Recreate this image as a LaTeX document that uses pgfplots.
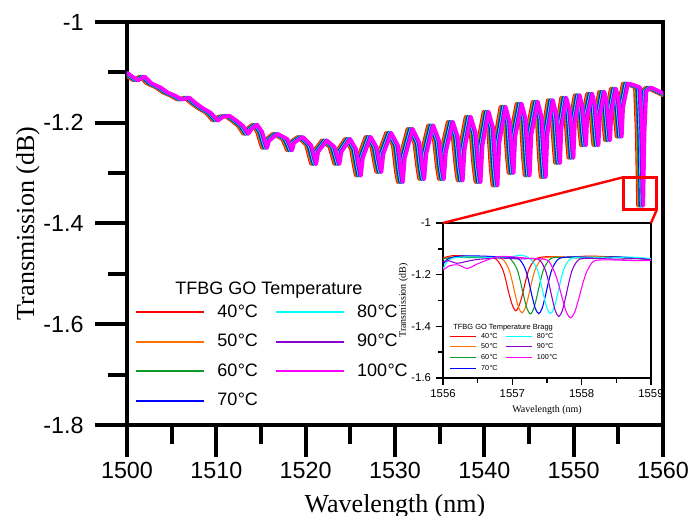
\documentclass[border=0pt]{standalone}
\usepackage{pgfplots}
\pgfplotsset{compat=1.18}
\usepackage{pgfplotstable}
\usepackage{fontspec}
\setmainfont{Liberation Sans}
\newfontfamily\serif{Liberation Serif}
\newcommand\dC{\kern0.4pt°\kern-0.2pt C}

\definecolor{cRed}{HTML}{FF0000}
\definecolor{cOrange}{HTML}{FF7000}
\definecolor{cGreen}{HTML}{0F9A2A}
\definecolor{cBlue}{HTML}{0000FF}
\definecolor{cCyan}{HTML}{00FFFF}
\definecolor{cPurple}{HTML}{8C00D2}
\definecolor{cMagenta}{HTML}{FF00FF}

\pgfplotstableread{
x40 x50 x60 x70 x80 x90 x100 y
1499.4 1499.5 1499.6 1499.7 1499.8 1499.9 1500.0 -1.100
1500.0 1500.1 1500.2 1500.3 1500.4 1500.5 1500.6 -1.108
1500.7 1500.8 1500.9 1501.0 1501.1 1501.2 1501.3 -1.116
1501.4 1501.5 1501.6 1501.7 1501.8 1501.9 1502.0 -1.108
1502.2 1502.3 1502.4 1502.5 1502.6 1502.7 1502.8 -1.122
1503.2 1503.3 1503.4 1503.5 1503.6 1503.7 1503.8 -1.130
1504.0 1504.1 1504.2 1504.3 1504.4 1504.5 1504.6 -1.140
1504.8 1504.9 1505.0 1505.1 1505.2 1505.3 1505.4 -1.146
1505.6 1505.7 1505.8 1505.9 1506.0 1506.1 1506.2 -1.154
1506.4 1506.5 1506.6 1506.7 1506.8 1506.9 1507.0 -1.150
1507.2 1507.3 1507.4 1507.5 1507.6 1507.7 1507.8 -1.162
1508.0 1508.1 1508.2 1508.3 1508.4 1508.5 1508.6 -1.172
1508.8 1508.9 1509.0 1509.1 1509.2 1509.3 1509.4 -1.180
1509.6 1509.7 1509.8 1509.9 1510.0 1510.1 1510.2 -1.196
1510.2 1510.3 1510.4 1510.5 1510.6 1510.7 1510.8 -1.188
1510.9 1511.0 1511.1 1511.2 1511.3 1511.4 1511.5 -1.186
1511.7 1511.8 1511.9 1512.0 1512.1 1512.2 1512.3 -1.196
1512.4 1512.5 1512.6 1512.7 1512.8 1512.9 1513.0 -1.206
1513.0 1513.1 1513.2 1513.3 1513.4 1513.5 1513.6 -1.222
1513.4 1513.5 1513.6 1513.7 1513.8 1513.9 1514.0 -1.212
1514.0 1514.1 1514.2 1514.3 1514.4 1514.5 1514.6 -1.204
1514.55 1514.65 1514.75 1514.85 1514.95 1515.05 1515.15 -1.218
1514.88 1514.98 1515.08 1515.18 1515.28 1515.38 1515.48 -1.238
1515.10 1515.20 1515.30 1515.40 1515.50 1515.60 1515.70 -1.250
1515.32 1515.42 1515.52 1515.62 1515.72 1515.82 1515.92 -1.236
1516.30 1516.40 1516.50 1516.60 1516.70 1516.80 1516.90 -1.222
1517.35 1517.45 1517.55 1517.65 1517.75 1517.85 1517.95 -1.232
1517.68 1517.78 1517.88 1517.98 1518.08 1518.18 1518.28 -1.245
1517.90 1518.00 1518.10 1518.20 1518.30 1518.40 1518.50 -1.255
1518.12 1518.22 1518.32 1518.42 1518.52 1518.62 1518.72 -1.240
1519.10 1519.20 1519.30 1519.40 1519.50 1519.60 1519.70 -1.228
1520.05 1520.15 1520.25 1520.35 1520.45 1520.55 1520.65 -1.245
1520.38 1520.48 1520.58 1520.68 1520.78 1520.88 1520.98 -1.268
1520.60 1520.70 1520.80 1520.90 1521.00 1521.10 1521.20 -1.282
1520.82 1520.92 1521.02 1521.12 1521.22 1521.32 1521.42 -1.258
1521.80 1521.90 1522.00 1522.10 1522.20 1522.30 1522.40 -1.235
1522.65 1522.75 1522.85 1522.95 1523.05 1523.15 1523.25 -1.248
1522.98 1523.08 1523.18 1523.28 1523.38 1523.48 1523.58 -1.268
1523.20 1523.30 1523.40 1523.50 1523.60 1523.70 1523.80 -1.282
1523.42 1523.52 1523.62 1523.72 1523.82 1523.92 1524.02 -1.258
1524.40 1524.50 1524.60 1524.70 1524.80 1524.90 1525.00 -1.232
1525.05 1525.15 1525.25 1525.35 1525.45 1525.55 1525.65 -1.252
1525.38 1525.48 1525.58 1525.68 1525.78 1525.88 1525.98 -1.285
1525.60 1525.70 1525.80 1525.90 1526.00 1526.10 1526.20 -1.305
1525.82 1525.92 1526.02 1526.12 1526.22 1526.32 1526.42 -1.270
1526.70 1526.80 1526.90 1527.00 1527.10 1527.20 1527.30 -1.228
1527.35 1527.45 1527.55 1527.65 1527.75 1527.85 1527.95 -1.248
1527.68 1527.78 1527.88 1527.98 1528.08 1528.18 1528.28 -1.280
1527.90 1528.00 1528.10 1528.20 1528.30 1528.40 1528.50 -1.298
1528.12 1528.22 1528.32 1528.42 1528.52 1528.62 1528.72 -1.262
1529.00 1529.10 1529.20 1529.30 1529.40 1529.50 1529.60 -1.220
1529.75 1529.85 1529.95 1530.05 1530.15 1530.25 1530.35 -1.245
1530.08 1530.18 1530.28 1530.38 1530.48 1530.58 1530.68 -1.295
1530.30 1530.40 1530.50 1530.60 1530.70 1530.80 1530.90 -1.318
1530.52 1530.62 1530.72 1530.82 1530.92 1531.02 1531.12 -1.270
1531.40 1531.50 1531.60 1531.70 1531.80 1531.90 1532.00 -1.212
1532.15 1532.25 1532.35 1532.45 1532.55 1532.65 1532.75 -1.240
1532.48 1532.58 1532.68 1532.78 1532.88 1532.98 1533.08 -1.288
1532.70 1532.80 1532.90 1533.00 1533.10 1533.20 1533.30 -1.312
1532.92 1533.02 1533.12 1533.22 1533.32 1533.42 1533.52 -1.262
1533.70 1533.80 1533.90 1534.00 1534.10 1534.20 1534.30 -1.205
1534.35 1534.45 1534.55 1534.65 1534.75 1534.85 1534.95 -1.235
1534.68 1534.78 1534.88 1534.98 1535.08 1535.18 1535.28 -1.288
1534.90 1535.00 1535.10 1535.20 1535.30 1535.40 1535.50 -1.312
1535.12 1535.22 1535.32 1535.42 1535.52 1535.62 1535.72 -1.258
1535.90 1536.00 1536.10 1536.20 1536.30 1536.40 1536.50 -1.198
1536.45 1536.55 1536.65 1536.75 1536.85 1536.95 1537.05 -1.228
1536.78 1536.88 1536.98 1537.08 1537.18 1537.28 1537.38 -1.288
1537.00 1537.10 1537.20 1537.30 1537.40 1537.50 1537.60 -1.315
1537.22 1537.32 1537.42 1537.52 1537.62 1537.72 1537.82 -1.252
1537.90 1538.00 1538.10 1538.20 1538.30 1538.40 1538.50 -1.188
1538.45 1538.55 1538.65 1538.75 1538.85 1538.95 1539.05 -1.220
1538.78 1538.88 1538.98 1539.08 1539.18 1539.28 1539.38 -1.288
1539.00 1539.10 1539.20 1539.30 1539.40 1539.50 1539.60 -1.318
1539.22 1539.32 1539.42 1539.52 1539.62 1539.72 1539.82 -1.245
1539.90 1540.00 1540.10 1540.20 1540.30 1540.40 1540.50 -1.178
1540.40 1540.50 1540.60 1540.70 1540.80 1540.90 1541.00 -1.210
1540.70 1540.80 1540.90 1541.00 1541.10 1541.20 1541.30 -1.290
1540.90 1541.00 1541.10 1541.20 1541.30 1541.40 1541.50 -1.325
1541.10 1541.20 1541.30 1541.40 1541.50 1541.60 1541.70 -1.240
1541.80 1541.90 1542.00 1542.10 1542.20 1542.30 1542.40 -1.168
1542.25 1542.35 1542.45 1542.55 1542.65 1542.75 1542.85 -1.198
1542.52 1542.62 1542.72 1542.82 1542.92 1543.02 1543.12 -1.268
1542.70 1542.80 1542.90 1543.00 1543.10 1543.20 1543.30 -1.300
1542.88 1542.98 1543.08 1543.18 1543.28 1543.38 1543.48 -1.228
1543.60 1543.70 1543.80 1543.90 1544.00 1544.10 1544.20 -1.162
1544.05 1544.15 1544.25 1544.35 1544.45 1544.55 1544.65 -1.192
1544.32 1544.42 1544.52 1544.62 1544.72 1544.82 1544.92 -1.270
1544.50 1544.60 1544.70 1544.80 1544.90 1545.00 1545.10 -1.305
1544.68 1544.78 1544.88 1544.98 1545.08 1545.18 1545.28 -1.225
1545.40 1545.50 1545.60 1545.70 1545.80 1545.90 1546.00 -1.158
1545.85 1545.95 1546.05 1546.15 1546.25 1546.35 1546.45 -1.190
1546.12 1546.22 1546.32 1546.42 1546.52 1546.62 1546.72 -1.272
1546.30 1546.40 1546.50 1546.60 1546.70 1546.80 1546.90 -1.308
1546.48 1546.58 1546.68 1546.78 1546.88 1546.98 1547.08 -1.222
1547.10 1547.20 1547.30 1547.40 1547.50 1547.60 1547.70 -1.155
1547.50 1547.60 1547.70 1547.80 1547.90 1548.00 1548.10 -1.185
1547.75 1547.85 1547.95 1548.05 1548.15 1548.25 1548.35 -1.248
1547.90 1548.00 1548.10 1548.20 1548.30 1548.40 1548.50 -1.280
1548.05 1548.15 1548.25 1548.35 1548.45 1548.55 1548.65 -1.210
1548.60 1548.70 1548.80 1548.90 1549.00 1549.10 1549.20 -1.150
1549.00 1549.10 1549.20 1549.30 1549.40 1549.50 1549.60 -1.178
1549.25 1549.35 1549.45 1549.55 1549.65 1549.75 1549.85 -1.238
1549.40 1549.50 1549.60 1549.70 1549.80 1549.90 1550.00 -1.270
1549.55 1549.65 1549.75 1549.85 1549.95 1550.05 1550.15 -1.200
1550.10 1550.20 1550.30 1550.40 1550.50 1550.60 1550.70 -1.145
1550.40 1550.50 1550.60 1550.70 1550.80 1550.90 1551.00 -1.170
1550.65 1550.75 1550.85 1550.95 1551.05 1551.15 1551.25 -1.220
1550.80 1550.90 1551.00 1551.10 1551.20 1551.30 1551.40 -1.245
1550.95 1551.05 1551.15 1551.25 1551.35 1551.45 1551.55 -1.188
1551.50 1551.60 1551.70 1551.80 1551.90 1552.00 1552.10 -1.142
1551.80 1551.90 1552.00 1552.10 1552.20 1552.30 1552.40 -1.165
1552.05 1552.15 1552.25 1552.35 1552.45 1552.55 1552.65 -1.218
1552.20 1552.30 1552.40 1552.50 1552.60 1552.70 1552.80 -1.245
1552.35 1552.45 1552.55 1552.65 1552.75 1552.85 1552.95 -1.185
1552.85 1552.95 1553.05 1553.15 1553.25 1553.35 1553.45 -1.138
1553.10 1553.20 1553.30 1553.40 1553.50 1553.60 1553.70 -1.158
1553.35 1553.45 1553.55 1553.65 1553.75 1553.85 1553.95 -1.208
1553.50 1553.60 1553.70 1553.80 1553.90 1554.00 1554.10 -1.235
1553.65 1553.75 1553.85 1553.95 1554.05 1554.15 1554.25 -1.178
1554.15 1554.25 1554.35 1554.45 1554.55 1554.65 1554.75 -1.132
1554.40 1554.50 1554.60 1554.70 1554.80 1554.90 1555.00 -1.150
1554.65 1554.75 1554.85 1554.95 1555.05 1555.15 1555.25 -1.200
1554.80 1554.90 1555.00 1555.10 1555.20 1555.30 1555.40 -1.228
1554.95 1555.05 1555.15 1555.25 1555.35 1555.45 1555.55 -1.170
1555.50 1555.60 1555.70 1555.80 1555.90 1556.00 1556.10 -1.122
1556.20 1556.30 1556.40 1556.50 1556.60 1556.70 1556.80 -1.125
1556.85 1556.95 1557.05 1557.15 1557.25 1557.35 1557.45 -1.130
1557.05 1557.15 1557.25 1557.35 1557.45 1557.55 1557.65 -1.220
1557.20 1557.30 1557.40 1557.50 1557.60 1557.70 1557.80 -1.365
1557.35 1557.45 1557.55 1557.65 1557.75 1557.85 1557.95 -1.220
1557.55 1557.65 1557.75 1557.85 1557.95 1558.05 1558.15 -1.138
1558.10 1558.20 1558.30 1558.40 1558.50 1558.60 1558.70 -1.130
1558.70 1558.80 1558.90 1559.00 1559.10 1559.20 1559.30 -1.135
1560.00 1560.10 1560.20 1560.30 1560.40 1560.50 1560.60 -1.146
}\maindata

\begin{document}
\begin{tikzpicture}
\path[use as bounding box] (0,0) rectangle (516.75pt,387pt);
\begin{axis}[
  name=main,
  at={(95.25pt,68.25pt)}, anchor=south west,
  scale only axis, width=402pt, height=302.25pt,
  xmin=1500, xmax=1560, ymin=-1.8, ymax=-1,
  xtick={1500,1510,1520,1530,1540,1550,1560},
  ytick={-1.8,-1.6,-1.4,-1.2,-1},
  yticklabels={-1.8,-1.6,-1.4,-1.2,-1},
  minor x tick num=1, minor y tick num=1,
  tick align=outside, tick pos=left,
  major tick length=24pt, minor tick length=14pt,
  axis line style={line width=3.6pt},
  tick style={black, line width=3pt},
  /pgf/number format/assume math mode=true,
  /pgf/number format/set thousands separator={},
  tick label style={font=\fontsize{17.5}{21}\selectfont},
  yticklabel style={xshift=-5pt},
  xlabel={Wavelength (nm)}, ylabel={Transmission (dB)},
  label style={font=\serif\fontsize{19.5}{23}\selectfont},
  xlabel style={at={(axis description cs:0.5,-0.216)}, anchor=base},
  ylabel style={at={(axis description cs:-0.185,0.5)}, anchor=center},
  legend columns=2,
  legend cell align=left,
  legend image code/.code={\draw[#1, line width=1.5pt] (0pt,0pt) -- (51pt,0pt);},
  legend style={at={(axis description cs:0.0075,0.312)}, anchor=north west,
    draw=none, fill=none, font=\fontsize{13.5}{16}\selectfont, row sep=7.2pt,
    /tikz/every odd column/.append style={column sep=7pt},
    /tikz/every even column/.append style={column sep=11pt}},
]
\addplot[cRed, line width=2.6pt, line join=round, forget plot] table[x=x40, y=y] {\maindata};
\addplot[cOrange, line width=2.6pt, line join=round, forget plot] table[x=x50, y=y] {\maindata};
\addplot[cGreen, line width=2.6pt, line join=round, forget plot] table[x=x60, y=y] {\maindata};
\addplot[cBlue, line width=2.6pt, line join=round, forget plot] table[x=x70, y=y] {\maindata};
\addplot[cCyan, line width=2.6pt, line join=round, forget plot] table[x=x80, y=y] {\maindata};
\addplot[cPurple, line width=2.6pt, line join=round, forget plot] table[x=x90, y=y] {\maindata};
\addplot[cMagenta, line width=2.6pt, line join=round, forget plot] table[x=x100, y=y] {\maindata};
\addlegendimage{cRed}\addlegendentry{40\dC}
\addlegendimage{cCyan}\addlegendentry{80\dC}
\addlegendimage{cOrange}\addlegendentry{50\dC}
\addlegendimage{cPurple}\addlegendentry{90\dC}
\addlegendimage{cGreen}\addlegendentry{60\dC}
\addlegendimage{cMagenta}\addlegendentry{100\dC}
\addlegendimage{cBlue}\addlegendentry{70\dC}
\draw[red, line width=2.2pt] (axis cs:1555.6,-1.308) rectangle (axis cs:1559.3,-1.373);
\coordinate (boxTL) at (axis cs:1555.6,-1.308);
\coordinate (boxBR) at (axis cs:1559.3,-1.373);
\end{axis}
\node[anchor=west, font=\fontsize{13.5}{16}\selectfont, inner sep=0pt] at (131.25pt,169.5pt) {TFBG GO Temperature};

\begin{axis}[
  name=inset,
  at={(332.25pt,103.5pt)}, anchor=south west,
  scale only axis, width=156pt, height=116.25pt,
  axis background/.style={fill=white},
  xmin=1556, xmax=1559, ymin=-1.6, ymax=-1,
  xtick={1556,1557,1558,1559},
  ytick={-1.6,-1.4,-1.2,-1},
  yticklabels={-1.6,-1.4,-1.2,-1},
  minor x tick num=1, minor y tick num=1,
  tick align=outside, tick pos=left,
  major tick length=5.5pt, minor tick length=3.5pt,
  axis line style={line width=1.5pt},
  tick style={black, line width=1.1pt},
  /pgf/number format/assume math mode=true,
  /pgf/number format/set thousands separator={},
  tick label style={font=\fontsize{8.5}{10}\selectfont},
  xlabel={Wavelength (nm)}, ylabel={Transmission (dB)},
  label style={font=\serif\fontsize{7.5}{9}\selectfont},
  xlabel style={at={(axis description cs:0.5,-0.21)}, anchor=center},
  ylabel style={at={(axis description cs:-0.19,0.5)}, anchor=center},
  legend columns=2,
  legend cell align=left,
  legend image code/.code={\draw[#1, line width=0.8pt] (0pt,0pt) -- (19.5pt,0pt);},
  legend style={at={(axis description cs:0.01,0.318)}, anchor=north west,
    draw=none, fill=none, font=\fontsize{5.4}{6.4}\selectfont, row sep=1.3pt,
    nodes={inner sep=0.6pt, text height=4.2pt, text depth=1.3pt},
    /tikz/every odd column/.append style={column sep=3pt},
    /tikz/every even column/.append style={column sep=5pt}},
]
\addplot[cRed, line width=0.8pt, smooth, forget plot] coordinates {(1556.00,-1.135)(1556.15,-1.126)(1556.35,-1.129)(1556.55,-1.132)(1556.75,-1.137)(1556.85,-1.173)(1556.90,-1.215)(1556.95,-1.272)(1557.00,-1.318)(1557.05,-1.340)(1557.10,-1.318)(1557.15,-1.272)(1557.20,-1.215)(1557.25,-1.173)(1557.35,-1.137)(1557.55,-1.130)(1557.80,-1.133)(1558.10,-1.128)(1558.40,-1.131)(1558.70,-1.135)(1559.00,-1.140)};
\addplot[cOrange, line width=0.8pt, smooth, forget plot] coordinates {(1556.00,-1.140)(1556.10,-1.132)(1556.30,-1.130)(1556.60,-1.133)(1556.84,-1.137)(1556.94,-1.173)(1556.99,-1.217)(1557.04,-1.275)(1557.09,-1.327)(1557.14,-1.348)(1557.19,-1.327)(1557.24,-1.275)(1557.29,-1.217)(1557.34,-1.173)(1557.44,-1.137)(1557.65,-1.131)(1557.95,-1.134)(1558.25,-1.130)(1558.55,-1.133)(1558.80,-1.137)(1559.00,-1.141)};
\addplot[cGreen, line width=0.8pt, smooth, forget plot] coordinates {(1556.00,-1.138)(1556.20,-1.133)(1556.50,-1.134)(1556.80,-1.133)(1556.96,-1.137)(1557.06,-1.174)(1557.11,-1.219)(1557.16,-1.278)(1557.21,-1.330)(1557.26,-1.352)(1557.31,-1.330)(1557.36,-1.278)(1557.41,-1.219)(1557.46,-1.174)(1557.56,-1.137)(1557.75,-1.133)(1558.05,-1.136)(1558.35,-1.132)(1558.65,-1.136)(1559.00,-1.140)};
\addplot[cBlue, line width=0.8pt, smooth, forget plot] coordinates {(1556.00,-1.160)(1556.08,-1.138)(1556.25,-1.128)(1556.55,-1.128)(1556.85,-1.132)(1557.08,-1.137)(1557.18,-1.174)(1557.23,-1.219)(1557.28,-1.278)(1557.33,-1.330)(1557.38,-1.351)(1557.43,-1.330)(1557.48,-1.278)(1557.53,-1.219)(1557.58,-1.174)(1557.68,-1.137)(1557.90,-1.131)(1558.20,-1.134)(1558.50,-1.131)(1558.80,-1.136)(1559.00,-1.139)};
\addplot[cCyan, line width=0.8pt, smooth, forget plot] coordinates {(1556.00,-1.178)(1556.06,-1.150)(1556.15,-1.135)(1556.40,-1.131)(1556.70,-1.133)(1557.00,-1.130)(1557.12,-1.124)(1557.25,-1.137)(1557.35,-1.174)(1557.40,-1.219)(1557.45,-1.278)(1557.50,-1.330)(1557.55,-1.351)(1557.60,-1.330)(1557.65,-1.278)(1557.70,-1.219)(1557.75,-1.174)(1557.85,-1.137)(1558.10,-1.132)(1558.40,-1.135)(1558.70,-1.132)(1559.00,-1.138)};
\addplot[cPurple, line width=0.8pt, smooth, forget plot] coordinates {(1556.00,-1.150)(1556.08,-1.146)(1556.20,-1.156)(1556.32,-1.150)(1556.50,-1.141)(1556.80,-1.136)(1557.10,-1.139)(1557.37,-1.140)(1557.47,-1.178)(1557.52,-1.225)(1557.57,-1.286)(1557.62,-1.340)(1557.67,-1.362)(1557.72,-1.340)(1557.77,-1.286)(1557.82,-1.225)(1557.87,-1.178)(1557.97,-1.140)(1558.20,-1.137)(1558.50,-1.140)(1558.80,-1.138)(1559.00,-1.142)};
\addplot[cMagenta, line width=0.8pt, smooth, forget plot] coordinates {(1556.00,-1.182)(1556.10,-1.165)(1556.22,-1.162)(1556.35,-1.176)(1556.50,-1.158)(1556.65,-1.142)(1556.80,-1.130)(1557.00,-1.131)(1557.25,-1.137)(1557.50,-1.143)(1557.60,-1.185)(1557.66,-1.231)(1557.72,-1.291)(1557.78,-1.345)(1557.84,-1.367)(1557.90,-1.345)(1557.96,-1.291)(1558.02,-1.231)(1558.08,-1.185)(1558.18,-1.147)(1558.40,-1.143)(1558.70,-1.145)(1559.00,-1.146)};
\addlegendimage{cRed}\addlegendentry{40\dC}
\addlegendimage{cCyan}\addlegendentry{80\dC}
\addlegendimage{cOrange}\addlegendentry{50\dC}
\addlegendimage{cPurple}\addlegendentry{90\dC}
\addlegendimage{cGreen}\addlegendentry{60\dC}
\addlegendimage{cMagenta}\addlegendentry{100\dC}
\addlegendimage{cBlue}\addlegendentry{70\dC}
\end{axis}
\node[anchor=west, font=\fontsize{5.6}{6.6}\selectfont, inner sep=0pt] at (339.75pt,141pt) {TFBG GO Temperature Bragg};
\draw[red, line width=1.8pt] (boxTL) -- (inset.north west);
\draw[red, line width=1.8pt] (boxBR) -- (inset.north east);
\end{tikzpicture}
\end{document}
